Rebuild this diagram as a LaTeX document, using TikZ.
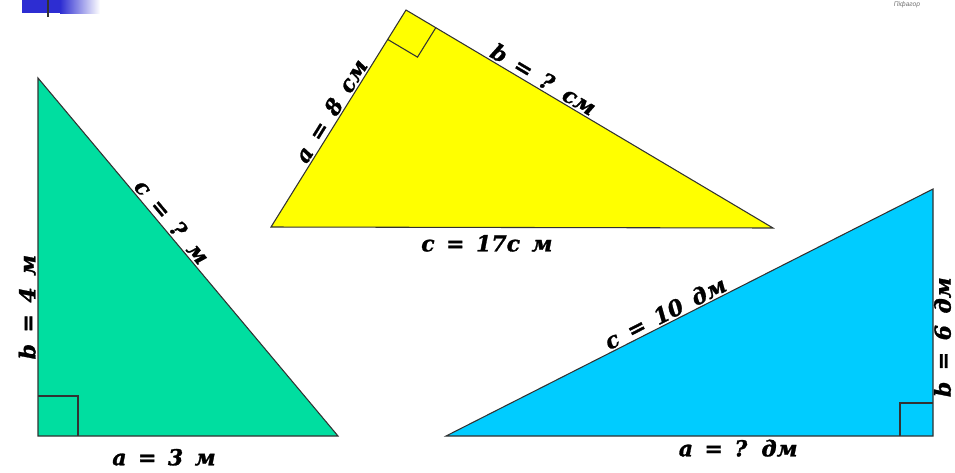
\documentclass[tikz,border=0pt]{standalone}
\usepackage{fontspec}
\newfontfamily\lblfont[WordSpace=1.5,BoldItalicFeatures={FakeBold=1.2}]{DejaVu Serif}
\newfontfamily\brandfont{Liberation Sans}
\definecolor{SeaGreen}{RGB}{0,222,160}
\definecolor{BrightYellow}{RGB}{255,255,0}
\definecolor{SkyCyan}{RGB}{0,204,255}
\definecolor{BarBlue}{RGB}{45,45,210}
\definecolor{EdgeGray}{RGB}{50,50,50}
\usetikzlibrary{calc}
\begin{document}
\begin{tikzpicture}[x=0.75pt,y=-0.75pt,
    tri/.style={draw=EdgeGray,line width=0.8pt,line join=miter},
    rightang/.style={draw=EdgeGray,line width=0.8pt},
    side/.style={font=\lblfont\bfseries\itshape\fontsize{16.5}{18}\selectfont,
                 inner sep=1.5pt,text=black}]
  \useasboundingbox (0,0) rectangle (955,472);
  % header bar and brand
  \fill[BarBlue] (22,0) rectangle (60,13);
  \shade[left color=BarBlue,right color=white] (60,0) rectangle (100,13);
  \draw[line width=1.2pt,EdgeGray] (48,0) -- (48,17);
  \node[font=\brandfont\itshape\fontsize{5}{6}\selectfont,text=black!55] (brand) at (907,5) {Піфагор};
  % green triangle
  \coordinate (gT) at (38,78);
  \coordinate (gL) at (38,436);
  \coordinate (gR) at (338,436);
  \filldraw[tri,fill=SeaGreen] (gT) -- (gL) -- (gR) -- cycle;
  \draw[rightang] ($(gL)+(0,-40)$) -- ++(40,0) -- ++(0,40);
  \path (gL) -- (gR) node[side,below,pos=0.42,yshift=-8pt] (ga) {a = 3 м};
  \path (gL) -- (gT) node[side,sloped,above,pos=0.36] (gb) {b = 4 м};
  \path (gT) -- (gR) node[side,sloped,above,pos=0.42] (gc) {c = ? м};
  % yellow triangle
  \coordinate (yT) at (406,10);
  \coordinate (yL) at (271,227);
  \coordinate (yR) at (773,228);
  \filldraw[tri,fill=BrightYellow] (yT) -- (yL) -- (yR) -- cycle;
  \coordinate (ya) at ($(yT)!26pt!(yL)$);
  \coordinate (yb) at ($(yT)!26pt!(yR)$);
  \draw[rightang] (ya) -- ($(ya)+(yb)-(yT)$) -- (yb);
  \path (yL) -- (yT) node[side,sloped,above,pos=0.51] (yla) {a = 8 см};
  \path (yT) -- (yR) node[side,sloped,above,pos=0.36] (ylb) {b = ? см};
  \path (yL) -- (yR) node[side,below,pos=0.43,yshift=-4pt] (ylc) {c = 17с м};
  % blue triangle
  \coordinate (bT) at (933,189);
  \coordinate (bL) at (446,436);
  \coordinate (bR) at (933,436);
  \filldraw[tri,fill=SkyCyan] (bT) -- (bL) -- (bR) -- cycle;
  \draw[rightang] ($(bR)+(-33,0)$) -- ++(0,-33) -- ++(33,0);
  \path (bL) -- (bR) node[side,below,pos=0.6,yshift=-1pt] (ba) {a = ? дм};
  \path (bR) -- (bT) node[side,sloped,below,pos=0.4,inner sep=0.5pt] (bb) {b = 6 дм};
  \path (bL) -- (bT) node[side,sloped,above,pos=0.46] (bc) {c = 10 дм};
\end{tikzpicture}
\end{document}
